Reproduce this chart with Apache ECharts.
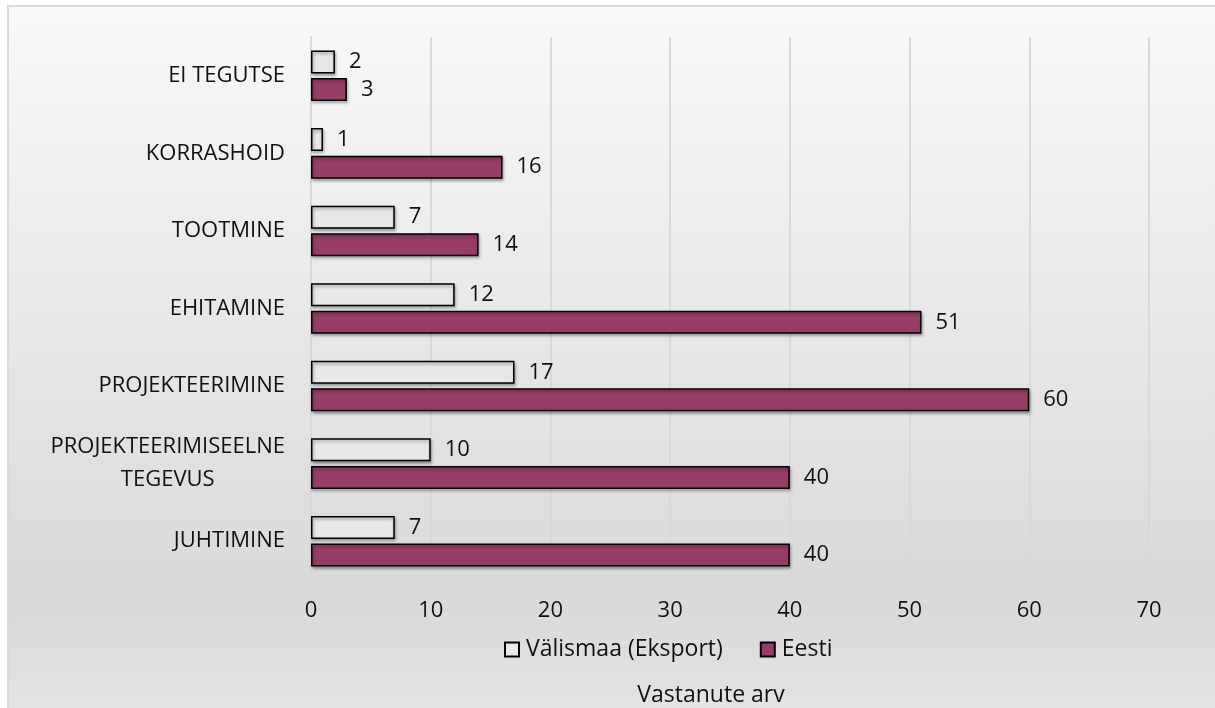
<!DOCTYPE html>
<html>
<head>
<meta charset="utf-8">
<script src="https://cdn.jsdelivr.net/npm/echarts@6/dist/echarts.min.js"></script>
<style>
html,body{margin:0;padding:0;background:#ffffff;}
#chart{width:1215px;height:708px;}
</style>
</head>
<body>
<div id="chart"></div>
<script>
const categories = ['JUHTIMINE', 'PROJEKTEERIMISEELNE TEGEVUS', 'PROJEKTEERIMINE', 'EHITAMINE', 'TOOTMINE', 'KORRASHOID', 'EI TEGUTSE'];
const valismaa = [7, 10, 17, 12, 7, 1, 2];
const eesti = [40, 40, 60, 51, 14, 16, 3];
const seriesNames = ['Välismaa (Eksport)', 'Eesti'];
const axisTitle = 'Vastanute arv';

const FONT = 'Open Sans';
const FS = 22;
const FS2 = 23;
const TXT = '#111111';
const chart = echarts.init(document.getElementById('chart'), null, {renderer: 'canvas'});

const barShadow = {shadowBlur: 3, shadowOffsetX: 1, shadowOffsetY: 2, shadowColor: 'rgba(0,0,0,0.35)'};

const option = {
  animation: false,
  backgroundColor: '#ffffff',
  textStyle: {fontFamily: FONT},
  graphic: [{
    type: 'rect', z: -10, silent: true,
    shape: {x: 8, y: 6, width: 1215, height: 712},
    style: {
      fill: new echarts.graphic.LinearGradient(0, 0, 0, 1, [
        {offset: 0, color: '#f9f9f9'},
        {offset: 0.83, color: '#d9d9d9'},
        {offset: 1, color: '#e4e4e4'}
      ]),
      stroke: '#d9d9d9', lineWidth: 2
    }
  }],
  grid: {left: 311, right: 66, top: 37, bottom: 128, containLabel: false, outerBoundsMode: 'none'},
  legend: {
    data: seriesNames,
    left: 499, top: 633,
    itemWidth: 14, itemHeight: 14, itemGap: 37,
    icon: 'rect',
    textStyle: {fontFamily: FONT, fontSize: FS2, color: TXT, padding: [0, 0, 0, 2]}
  },
  xAxis: {
    type: 'value', min: 0, max: 70, interval: 10,
    name: axisTitle, nameLocation: 'middle', nameGap: 104,
    nameTextStyle: {fontFamily: FONT, fontSize: FS2, color: TXT, padding: [0, 38, 0, 0]},
    axisLine: {show: false}, axisTick: {show: false},
    axisLabel: {fontFamily: FONT, fontSize: FS, color: TXT, margin: 20},
    splitLine: {show: true, lineStyle: {color: '#d9d9d9', width: 2}}
  },
  yAxis: {
    type: 'category', data: categories,
    axisLine: {show: true, lineStyle: {color: '#d9d9d9', width: 2}},
    axisTick: {show: false},
    axisLabel: {
      fontFamily: FONT, fontSize: FS, color: TXT, margin: 26, lineHeight: 33,
      formatter: function (v) {
        if (v === 'PROJEKTEERIMISEELNE TEGEVUS') return '{c|PROJEKTEERIMISEELNE}\n{c|TEGEVUS}';
        return v;
      },
      rich: {c: {align: 'center', fontFamily: FONT, fontSize: FS, color: TXT, lineHeight: 33}}
    }
  },
  series: [
    {
      name: seriesNames[0], type: 'bar', data: valismaa,
      barWidth: 23, barGap: '20%',
      itemStyle: Object.assign({color: '#e8e8e8', borderColor: '#000', borderWidth: 1.5}, barShadow),
      label: {show: true, position: 'right', distance: 14, fontFamily: FONT, fontSize: FS, color: TXT}
    },
    {
      name: seriesNames[1], type: 'bar', data: eesti,
      barWidth: 23, barGap: '20%',
      itemStyle: Object.assign({color: '#963E67', borderColor: '#000', borderWidth: 1.5}, barShadow),
      label: {show: true, position: 'right', distance: 14, fontFamily: FONT, fontSize: FS, color: TXT}
    }
  ]
};
chart.setOption(option);
</script>
</body>
</html>
